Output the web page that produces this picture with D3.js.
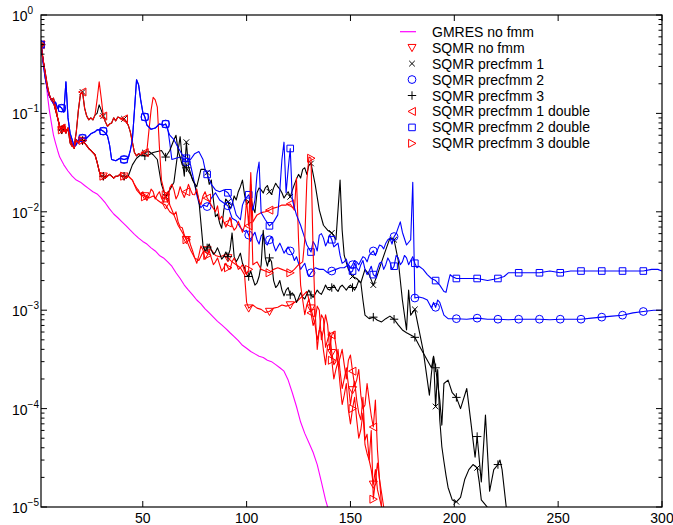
<!DOCTYPE html>
<html><head><meta charset="utf-8">
<script src="https://cdn.jsdelivr.net/npm/d3@7"></script>
<style>body{margin:0;background:#fff}svg{display:block}</style>
</head><body>
<svg id="c" width="673" height="525"></svg>
<script>
// ---------------- data: [iteration, relative residual] ----------------
const gmresNoFmm = [[1,0.50],[2,0.35],[3,0.26],[4,0.16],[5,0.108],[6,0.080],[7,0.060],[8,0.050],[9,0.042],[10,0.036],[12,0.030],[14,0.026],[16,0.023],[18,0.021],[20,0.020],[22,0.0185],[24,0.0172],[26,0.016],[28,0.0152],[30,0.0138],[32,0.0123],[34,0.0107],[36,0.0095],[38,0.0087],[40,0.0079],[42,0.0072],[44,0.0065],[46,0.0059],[48,0.0054],[50,0.0050],[52,0.0047],[54,0.0043],[56,0.0040],[58,0.0036],[60,0.0034],[62,0.0031],[64,0.0028],[66,0.0024],[68,0.0021],[70,0.0018],[72,0.0016],[74,0.00143],[76,0.00127],[78,0.00116],[80,0.00103],[82,0.00094],[84,0.00085],[86,0.00077],[88,0.00071],[90,0.00065],[92,0.00059],[94,0.00054],[96,0.00049],[98,0.00044],[100,0.00041],[102,0.00038],[104,0.00036],[106,0.00034],[108,0.00033],[110,0.00031],[112,0.00030],[114,0.00028],[116,0.00026],[118,0.00024],[120,0.000195],[122,0.000145],[124,0.000105],[126,0.000073],[128,0.000056],[130,0.000045],[132,0.000036],[134,0.000027],[136,0.000018],[138,0.0000118],[140,0.0000085]];

const sqmrNoFmm = [[1,0.50],[2,0.35],[3,0.25],[4,0.185],[5,0.154],[6,0.137],[7,0.13],[8,0.108],[9,0.090],[10,0.074],[11,0.068],[12,0.073],[13,0.063],[14,0.071],[15,0.056],[16,0.048],[17,0.044],[18,0.054],[19,0.050],[20,0.054],[21,0.053],[22,0.050],[23,0.047],[24,0.044],[25,0.042],[26,0.040],[27,0.038],[28,0.032],[29,0.026],[30,0.023],[31,0.023],[32,0.022],[33,0.023],[34,0.024],[35,0.023],[36,0.022],[37,0.023],[38,0.023],[39,0.024],[40,0.023],[41,0.023],[42,0.022],[43,0.023],[45,0.021],[47,0.0167],[49,0.0149],[51,0.0145],[53,0.0138],[55,0.0145],[57,0.0132],[59,0.0123],[61,0.0117],[63,0.0100],[65,0.0093],[67,0.0073],[69,0.0062],[71,0.0052],[73,0.0041],[75,0.0034],[77,0.0032],[79,0.0039],[81,0.0041],[83,0.0041],[85,0.0036],[87,0.0035],[89,0.0036],[91,0.0034],[93,0.0031],[95,0.0029],[97,0.0027],[99,0.0023],[100,0.0012],[101,0.00105],[103,0.00113],[105,0.00105],[107,0.00102],[109,0.00095],[111,0.00097],[113,0.00105],[115,0.00107],[117,0.00113],[119,0.0011],[121,0.00113],[123,0.0012],[125,0.00127],[127,0.0014],[129,0.00155],[131,0.00105],[132,0.00085],[133,0.0007],[134,0.0005],[135,0.00063],[136,0.0009],[137,0.00082],[138,0.00042],[139,0.0005],[140,0.0006],[141,0.00037],[142,0.00028],[143,0.0003],[144,0.0004],[145,0.00024],[146,0.00016],[147,0.0002],[148,0.00026],[149,0.000174],[150,0.00011],[151,0.000155],[152,0.00019],[153,0.000122],[154,0.00009],[155,0.000077],[156,0.00013],[157,0.000048],[158,0.000055],[159,0.00003],[160,0.000024],[161,0.000017],[162,0.000024],[163,0.000015],[165,0.00001],[166,0.000008]];

const sqmrPrec1 = [[1,0.50],[2,0.35],[3,0.265],[4,0.195],[5,0.154],[6,0.137],[7,0.143],[8,0.12],[9,0.090],[10,0.074],[11,0.071],[12,0.076],[13,0.066],[14,0.071],[15,0.050],[16,0.046],[17,0.047],[18,0.065],[19,0.108],[20,0.157],[21,0.165],[22,0.113],[23,0.094],[24,0.086],[25,0.090],[26,0.086],[27,0.096],[28,0.100],[29,0.122],[30,0.108],[31,0.094],[32,0.082],[33,0.074],[34,0.078],[35,0.080],[36,0.090],[37,0.084],[38,0.092],[39,0.090],[40,0.088],[41,0.088],[42,0.082],[43,0.076],[44,0.065],[45,0.051],[46,0.040],[47,0.037],[48,0.039],[49,0.038],[50,0.040],[51,0.040],[53,0.041],[55,0.038],[57,0.034],[59,0.019],[61,0.0142],[63,0.0167],[65,0.020],[67,0.042],[68,0.058],[69,0.034],[70,0.023],[71,0.051],[72,0.029],[74,0.021],[76,0.018],[78,0.027],[80,0.027],[81,0.025],[82,0.019],[83,0.021],[84,0.0132],[85,0.0089],[86,0.0095],[87,0.0077],[88,0.0068],[89,0.0104],[90,0.0135],[91,0.0126],[92,0.0108],[93,0.0117],[94,0.0145],[95,0.0132],[96,0.016],[97,0.018],[98,0.021],[99,0.0149],[100,0.0118],[101,0.0126],[102,0.014],[103,0.0112],[104,0.0098],[105,0.0156],[106,0.0175],[107,0.0167],[108,0.0155],[109,0.0175],[110,0.0185],[111,0.016],[112,0.015],[113,0.0175],[114,0.0195],[115,0.018],[116,0.017],[117,0.0156],[118,0.0138],[119,0.0149],[120,0.016],[121,0.0142],[122,0.0165],[123,0.019],[124,0.0215],[125,0.024],[126,0.022],[127,0.027],[128,0.028],[129,0.024],[130,0.030],[131,0.031],[133,0.019],[135,0.0104],[137,0.0073],[139,0.0065],[141,0.0061],[143,0.0052],[144,0.0104],[145,0.021],[146,0.0065],[147,0.0036],[149,0.0026],[151,0.0022],[153,0.0021],[155,0.0019],[157,0.0026],[159,0.0023],[161,0.0018],[163,0.0023],[165,0.0031],[167,0.0041],[169,0.0054],[171,0.0052],[173,0.0032],[175,0.00127],[177,0.00063],[178,0.0016],[179,0.00089],[181,0.00102],[183,0.00063],[185,0.00039],[187,0.000195],[188,0.000137],[189,0.00023],[190,0.00034],[191,0.000105],[192,0.00025],[193,0.000077],[194,0.000041],[195,0.000029],[196,0.000021],[197,0.0000158],[199,0.0000118],[201,0.0000113],[203,0.0000125],[205,0.000019],[207,0.000024],[209,0.000027],[211,0.000025],[212,0.000018],[213,0.0000118],[215,0.0000105],[217,0.0000093]];

const sqmrPrec2 = [[1,0.50],[2,0.33],[3,0.23],[4,0.18],[5,0.15],[6,0.137],[7,0.125],[8,0.13],[9,0.113],[10,0.118],[11,0.113],[12,0.103],[13,0.21],[14,0.090],[15,0.063],[16,0.054],[17,0.046],[18,0.048],[19,0.054],[20,0.055],[21,0.056],[23,0.056],[25,0.062],[27,0.065],[28,0.068],[30,0.068],[31,0.066],[32,0.063],[33,0.059],[34,0.048],[35,0.034],[37,0.033],[39,0.035],[41,0.034],[43,0.035],[44,0.042],[45,0.054],[46,0.108],[47,0.22],[48,0.195],[49,0.137],[50,0.103],[51,0.092],[52,0.076],[54,0.069],[56,0.071],[58,0.078],[60,0.076],[61,0.078],[62,0.071],[63,0.050],[64,0.034],[66,0.035],[68,0.036],[70,0.034],[71,0.032],[72,0.035],[73,0.030],[74,0.024],[75,0.019],[76,0.0149],[77,0.0123],[78,0.011],[79,0.0117],[81,0.0113],[83,0.0138],[85,0.0156],[87,0.0132],[89,0.0123],[91,0.0115],[93,0.0086],[95,0.0081],[97,0.0069],[99,0.0063],[100,0.0065],[101,0.0058],[102,0.005],[103,0.0057],[104,0.0062],[105,0.0052],[106,0.0047],[107,0.0057],[108,0.006],[109,0.0048],[110,0.0046],[111,0.0052],[112,0.0056],[113,0.0046],[114,0.004],[115,0.0044],[116,0.0048],[117,0.0043],[118,0.0038],[119,0.0041],[120,0.0044],[121,0.0040],[122,0.0037],[123,0.0032],[124,0.0035],[125,0.0030],[126,0.0026],[127,0.0028],[128,0.003],[129,0.0025],[130,0.0022],[131,0.0024],[133,0.0027],[135,0.0026],[137,0.0026],[139,0.0024],[141,0.0025],[143,0.0026],[145,0.0027],[147,0.0027],[149,0.0029],[150,0.0027],[151,0.0029],[152,0.0032],[153,0.0031],[154,0.0029],[155,0.0032],[156,0.0035],[157,0.0034],[158,0.0031],[159,0.0036],[160,0.0038],[161,0.0040],[162,0.0036],[163,0.0041],[164,0.0046],[165,0.0045],[166,0.0042],[167,0.0048],[168,0.0052],[169,0.0054],[170,0.0047],[171,0.0056],[172,0.006],[173,0.0069],[174,0.0079],[175,0.0062],[177,0.0046],[179,0.0052],[180,0.020],[181,0.00133],[183,0.00136],[185,0.00133],[187,0.00127],[189,0.00105],[190,0.00120],[191,0.00107],[192,0.00127],[193,0.0012],[195,0.00089],[197,0.00082],[201,0.00082],[206,0.00081],[211,0.00083],[216,0.00081],[221,0.00081],[226,0.00080],[231,0.00081],[236,0.00081],[241,0.00081],[246,0.00080],[251,0.00081],[256,0.00081],[261,0.00081],[266,0.00083],[271,0.00085],[276,0.00087],[281,0.00089],[286,0.00094],[291,0.00097],[296,0.00100],[300,0.00100]];

const sqmrPrec3 = [[1,0.50],[2,0.35],[3,0.25],[4,0.185],[5,0.154],[6,0.137],[7,0.13],[8,0.108],[9,0.090],[10,0.074],[11,0.068],[12,0.073],[13,0.063],[14,0.071],[15,0.056],[16,0.048],[17,0.044],[18,0.054],[19,0.050],[20,0.054],[21,0.053],[22,0.050],[23,0.047],[24,0.044],[25,0.042],[26,0.040],[27,0.038],[28,0.032],[29,0.026],[30,0.023],[31,0.023],[32,0.022],[33,0.023],[34,0.024],[35,0.023],[36,0.022],[37,0.023],[38,0.023],[39,0.024],[40,0.023],[41,0.023],[42,0.022],[43,0.023],[45,0.030],[47,0.035],[49,0.038],[51,0.037],[53,0.038],[55,0.040],[57,0.041],[59,0.042],[61,0.036],[63,0.042],[65,0.054],[66,0.060],[67,0.042],[69,0.030],[71,0.028],[73,0.024],[75,0.019],[77,0.0132],[79,0.0045],[80,0.0040],[81,0.0043],[82,0.0047],[83,0.0041],[84,0.0037],[85,0.0039],[86,0.0043],[87,0.0038],[88,0.0033],[89,0.0035],[90,0.0039],[91,0.0035],[92,0.0041],[93,0.0061],[94,0.0035],[95,0.0031],[96,0.0034],[97,0.0038],[98,0.0030],[99,0.0027],[100,0.0023],[101,0.0022],[102,0.0025],[103,0.0021],[104,0.0018],[105,0.0019],[106,0.0022],[107,0.0029],[108,0.0065],[109,0.0034],[110,0.0028],[111,0.0034],[112,0.0031],[113,0.0020],[114,0.0017],[115,0.0018],[116,0.0020],[117,0.0016],[118,0.0014],[119,0.0016],[120,0.0017],[121,0.00143],[122,0.0015],[123,0.0014],[124,0.0012],[125,0.00133],[126,0.0015],[127,0.00136],[128,0.0013],[129,0.00146],[130,0.0016],[131,0.00143],[132,0.00135],[133,0.00146],[134,0.0016],[135,0.0015],[136,0.00145],[137,0.0016],[138,0.0018],[139,0.00164],[140,0.0016],[141,0.0017],[142,0.0018],[143,0.00164],[144,0.00155],[145,0.00172],[146,0.0018],[147,0.0017],[148,0.0016],[149,0.00172],[150,0.0018],[151,0.0017],[152,0.0016],[153,0.00176],[154,0.0020],[155,0.0019],[156,0.00127],[157,0.00089],[159,0.00082],[161,0.00085],[163,0.00079],[165,0.00076],[167,0.00082],[169,0.00087],[171,0.00081],[173,0.00071],[175,0.00063],[177,0.00059],[179,0.00056],[181,0.00053],[183,0.00044],[185,0.00037],[187,0.00031],[189,0.00026],[190,0.00034],[191,0.00026],[193,0.000122],[194,0.000068],[195,0.00018],[197,0.000195],[199,0.000145],[201,0.00013],[203,0.0001],[206,0.00016],[208,0.000072],[210,0.000032],[211,0.000052],[213,0.000018],[215,0.000086],[217,0.0000145],[219,0.000024],[221,0.000027],[222,0.00003],[223,0.000024],[225,0.00001],[226,0.000008]];

const sqmrPrec1Double = [[1,0.50],[2,0.35],[3,0.265],[4,0.195],[5,0.154],[6,0.137],[7,0.143],[8,0.12],[9,0.090],[10,0.074],[11,0.071],[12,0.076],[13,0.066],[14,0.071],[15,0.050],[16,0.046],[17,0.047],[18,0.065],[19,0.108],[20,0.157],[21,0.165],[22,0.113],[23,0.094],[24,0.086],[25,0.090],[26,0.086],[27,0.096],[28,0.137],[29,0.21],[30,0.143],[31,0.094],[32,0.082],[33,0.074],[34,0.078],[35,0.080],[36,0.090],[37,0.084],[38,0.092],[39,0.090],[40,0.088],[41,0.088],[42,0.082],[43,0.076],[44,0.065],[45,0.051],[46,0.040],[47,0.037],[48,0.039],[49,0.038],[50,0.040],[51,0.040],[52,0.042],[53,0.068],[54,0.108],[55,0.146],[56,0.137],[57,0.116],[58,0.046],[59,0.021],[61,0.0142],[62,0.0125],[63,0.0175],[64,0.019],[65,0.0167],[66,0.0135],[67,0.0149],[68,0.018],[69,0.0156],[70,0.014],[71,0.016],[72,0.019],[73,0.0167],[74,0.015],[75,0.0149],[76,0.017],[77,0.0132],[78,0.0118],[79,0.0145],[80,0.016],[81,0.0138],[82,0.0128],[83,0.0117],[84,0.0108],[85,0.0100],[86,0.0115],[87,0.0083],[88,0.009],[89,0.0079],[90,0.007],[91,0.0077],[92,0.0088],[93,0.0073],[94,0.0065],[95,0.0069],[96,0.008],[97,0.0071],[98,0.0062],[99,0.0072],[100,0.0132],[101,0.0072],[102,0.025],[103,0.0079],[105,0.0093],[107,0.0098],[109,0.0100],[111,0.0104],[113,0.0109],[115,0.0112],[117,0.0117],[119,0.0117],[121,0.0120],[123,0.0104],[124,0.022],[125,0.0052],[126,0.0018],[127,0.00127],[128,0.0009],[129,0.00113],[130,0.0013],[131,0.00094],[132,0.0007],[133,0.00079],[134,0.0011],[135,0.00100],[136,0.0005],[137,0.00063],[138,0.0009],[139,0.00071],[140,0.0004],[141,0.00056],[142,0.0006],[143,0.00044],[144,0.00028],[145,0.00033],[146,0.0004],[147,0.00028],[148,0.0002],[149,0.00031],[150,0.00035],[151,0.00024],[152,0.00017],[153,0.000195],[154,0.00025],[155,0.000137],[156,0.0001],[157,0.000109],[158,0.00018],[159,0.000122],[160,0.000085],[161,0.000065],[162,0.000122],[163,0.000038],[164,0.000019],[165,0.00001],[166,0.000008]];

const sqmrPrec2Double = [[1,0.50],[2,0.33],[3,0.23],[4,0.18],[5,0.15],[6,0.137],[7,0.125],[8,0.13],[9,0.113],[10,0.118],[11,0.113],[12,0.103],[13,0.21],[14,0.090],[15,0.063],[16,0.054],[17,0.046],[18,0.048],[19,0.054],[20,0.055],[21,0.056],[23,0.056],[25,0.062],[27,0.065],[28,0.068],[30,0.068],[31,0.066],[32,0.063],[33,0.059],[34,0.048],[35,0.034],[37,0.033],[39,0.035],[41,0.034],[43,0.035],[44,0.042],[45,0.054],[46,0.108],[47,0.22],[48,0.195],[49,0.137],[50,0.103],[51,0.092],[52,0.076],[54,0.069],[56,0.071],[58,0.078],[60,0.076],[61,0.078],[62,0.068],[63,0.060],[65,0.054],[67,0.045],[69,0.038],[71,0.035],[73,0.034],[75,0.039],[77,0.041],[79,0.034],[80,0.027],[81,0.024],[83,0.019],[85,0.0167],[87,0.016],[89,0.0167],[91,0.0156],[93,0.0132],[95,0.0093],[97,0.0083],[98,0.0117],[99,0.0132],[101,0.0149],[103,0.0104],[104,0.0132],[105,0.024],[106,0.032],[107,0.0098],[109,0.0083],[111,0.0072],[113,0.0079],[115,0.0093],[116,0.0167],[117,0.034],[118,0.051],[119,0.0156],[120,0.027],[121,0.044],[122,0.0132],[124,0.0093],[126,0.0073],[128,0.0054],[129,0.0046],[131,0.0039],[132,0.005],[133,0.0046],[134,0.004],[135,0.0058],[136,0.006],[137,0.0054],[138,0.0045],[139,0.005],[140,0.0058],[141,0.0052],[142,0.0044],[143,0.0046],[144,0.0048],[145,0.0036],[146,0.003],[147,0.0031],[148,0.0033],[149,0.0027],[150,0.0024],[151,0.0025],[152,0.003],[153,0.0027],[154,0.0025],[155,0.0029],[156,0.0032],[157,0.0026],[158,0.0023],[159,0.0025],[160,0.0028],[161,0.0023],[162,0.0022],[163,0.0026],[164,0.003],[165,0.0031],[166,0.0026],[167,0.0029],[168,0.0034],[169,0.0031],[170,0.0026],[171,0.0028],[172,0.0036],[173,0.0034],[174,0.0029],[175,0.0031],[176,0.0036],[177,0.0034],[178,0.0029],[179,0.0032],[180,0.0035],[181,0.0030],[182,0.0027],[183,0.0028],[185,0.0026],[187,0.0023],[189,0.0021],[191,0.0020],[193,0.0018],[195,0.00155],[196,0.00152],[197,0.0019],[198,0.0023],[199,0.0022],[201,0.0021],[206,0.0021],[211,0.0021],[216,0.0020],[221,0.0021],[224,0.0022],[226,0.0024],[231,0.0024],[236,0.0024],[241,0.0024],[246,0.0025],[251,0.0024],[256,0.0025],[261,0.0025],[266,0.0025],[271,0.0025],[276,0.0025],[281,0.0025],[286,0.0025],[291,0.0025],[295,0.0026],[298,0.0026],[300,0.0025]];

const sqmrPrec3Double = [[1,0.50],[2,0.35],[3,0.25],[4,0.185],[5,0.154],[6,0.137],[7,0.13],[8,0.108],[9,0.090],[10,0.074],[11,0.068],[12,0.073],[13,0.063],[14,0.071],[15,0.056],[16,0.048],[17,0.044],[18,0.054],[19,0.050],[20,0.054],[21,0.053],[22,0.050],[23,0.047],[24,0.044],[25,0.042],[26,0.040],[27,0.038],[28,0.032],[29,0.026],[30,0.023],[31,0.023],[32,0.022],[33,0.023],[34,0.024],[35,0.023],[36,0.022],[37,0.023],[38,0.023],[39,0.024],[40,0.023],[41,0.023],[42,0.022],[43,0.023],[45,0.021],[46,0.019],[47,0.0175],[48,0.0165],[49,0.0149],[50,0.016],[51,0.0142],[52,0.013],[53,0.0145],[54,0.017],[55,0.016],[56,0.0135],[57,0.0149],[58,0.016],[59,0.0138],[60,0.0125],[61,0.0149],[62,0.016],[63,0.0117],[64,0.0105],[65,0.0093],[66,0.01],[67,0.0079],[68,0.007],[69,0.0069],[70,0.0058],[71,0.0052],[72,0.0055],[73,0.0046],[74,0.004],[75,0.0034],[76,0.003],[77,0.0036],[78,0.0045],[79,0.0041],[80,0.0033],[81,0.0036],[82,0.004],[83,0.0034],[84,0.0029],[85,0.0031],[86,0.0034],[87,0.0029],[88,0.0025],[89,0.0027],[90,0.003],[91,0.0027],[92,0.0026],[93,0.0031],[94,0.0034],[95,0.003],[96,0.0026],[97,0.0027],[98,0.0029],[99,0.0025],[100,0.0023],[101,0.0026],[102,0.019],[103,0.0029],[105,0.0031],[107,0.0026],[109,0.0025],[111,0.0024],[113,0.0026],[115,0.0027],[117,0.0026],[119,0.0025],[121,0.0024],[123,0.0026],[125,0.0029],[127,0.0031],[128,0.0052],[129,0.021],[130,0.036],[131,0.035],[132,0.0041],[133,0.00096],[134,0.0004],[135,0.00063],[136,0.0006],[137,0.00039],[138,0.00028],[139,0.00044],[140,0.00045],[141,0.00031],[142,0.0002],[143,0.00025],[144,0.0003],[145,0.000174],[146,0.00011],[147,0.000137],[148,0.00018],[149,0.000097],[150,0.00007],[151,0.0001],[152,0.00013],[153,0.000077],[154,0.00005],[155,0.000061],[156,0.00009],[157,0.000043],[158,0.000035],[159,0.00003],[160,0.00006],[161,0.000012],[163,0.000028],[164,0.000019],[166,0.00001],[167,0.000008]];

const legendLabels = ["GMRES no fmm","SQMR no fmm","SQMR precfmm 1","SQMR precfmm 2","SQMR precfmm 3","SQMR precfmm 1 double","SQMR precfmm 2 double","SQMR precfmm 3 double"];
const xTickValues = [50,100,150,200,250,300];
const yTickValues = [1e-5,1e-4,1e-3,1e-2,1e-1,1];

// ---------------- styling ----------------
const series = [
  {data:gmresNoFmm,      color:"#ff00ff", marker:null},
  {data:sqmrNoFmm,       color:"#ff0000", marker:"tdown"},
  {data:sqmrPrec1,       color:"#000000", marker:"x"},
  {data:sqmrPrec2,       color:"#0000ff", marker:"circle"},
  {data:sqmrPrec3,       color:"#000000", marker:"plus"},
  {data:sqmrPrec1Double, color:"#ff0000", marker:"tleft"},
  {data:sqmrPrec2Double, color:"#0000ff", marker:"square"},
  {data:sqmrPrec3Double, color:"#ff0000", marker:"tright"}
];
const markerPath = {
  tdown:"M-4,-3.2L4,-3.2L0,4Z",
  tleft:"M3.4,-4L3.4,4L-4,0Z",
  tright:"M-3.4,-4L-3.4,4L4,0Z",
  circle:"M-3.9,0A3.9,3.9 0 1 0 3.9,0A3.9,3.9 0 1 0 -3.9,0Z",
  square:"M-3.3,-3.3H3.3V3.3H-3.3Z",
  x:"M-2.8,-2.8L2.8,2.8M-2.8,2.8L2.8,-2.8",
  plus:"M-4.2,0H4.2M0,-4.2V4.2"
};

const L=41, R=662, T=15, B=507;
const FONT = "'Liberation Sans', Arial, Helvetica, sans-serif";
const svg = d3.select("#c").style("font-family", FONT);
svg.append("rect").attr("width",673).attr("height",525).attr("fill","#fff");

const x = d3.scaleLinear().domain([1,300]).range([L,R]);
const y = d3.scaleLog().domain([1e-5,1]).range([B,T]);

svg.append("clipPath").attr("id","clip").append("rect")
  .attr("x",L).attr("y",T).attr("width",R-L).attr("height",B-T);

const plot = svg.append("g").attr("clip-path","url(#clip)");
const line = d3.line().x(d=>x(d[0])).y(d=>y(d[1]));

series.forEach(s=>{
  const pts = s.data.slice().sort((a,b)=>a[0]-b[0]);
  plot.append("path").datum(pts).attr("d",line)
    .attr("fill","none").attr("stroke",s.color).attr("stroke-width",1.1)
    .attr("stroke-linejoin","round");
  if(s.marker){
    plot.selectAll(null).data(pts.filter(d=>d[0]%10===1)).enter().append("path")
      .attr("transform",d=>`translate(${x(d[0])},${y(d[1])})`)
      .attr("d",markerPath[s.marker])
      .attr("fill","none").attr("stroke",s.color).attr("stroke-width",1);
  }
});

// ---------------- axes ----------------
const axes = svg.append("g").attr("stroke","#000").attr("fill","none");
axes.append("rect").attr("x",L).attr("y",T).attr("width",R-L).attr("height",B-T).attr("stroke-width",1.2);

xTickValues.forEach(v=>{
  axes.append("line").attr("x1",x(v)).attr("x2",x(v)).attr("y1",B).attr("y2",B-6);
  axes.append("line").attr("x1",x(v)).attr("x2",x(v)).attr("y1",T).attr("y2",T+6);
});
const minors = [];
yTickValues.slice(0,-1).forEach(d=>{ for(let k=2;k<=9;k++) minors.push(d*k); });
yTickValues.forEach(v=>{
  axes.append("line").attr("x1",L).attr("x2",L+6).attr("y1",y(v)).attr("y2",y(v));
  axes.append("line").attr("x1",R).attr("x2",R-6).attr("y1",y(v)).attr("y2",y(v));
});
minors.forEach(v=>{
  axes.append("line").attr("x1",L).attr("x2",L+3.5).attr("y1",y(v)).attr("y2",y(v));
  axes.append("line").attr("x1",R).attr("x2",R-3.5).attr("y1",y(v)).attr("y2",y(v));
});

const labels = svg.append("g").attr("fill","#000");
xTickValues.forEach(v=>{
  labels.append("text").attr("x",x(v)).attr("y",523).attr("text-anchor","middle")
    .attr("font-size",14).text(v);
});
yTickValues.forEach(v=>{
  const e = Math.round(Math.log10(v));
  const t = labels.append("text").attr("x",12).attr("y",y(v)+6).attr("font-size",14);
  t.append("tspan").text("10");
  t.append("tspan").attr("dy",-7).attr("font-size",10).text(e===0?"0":"\u2212"+(-e));
});

// ---------------- legend ----------------
const lg = svg.append("g");
legendLabels.forEach((lab,i)=>{
  const cy = 31.7 + i*15.95;
  const s = series[i];
  if(!s.marker){
    lg.append("line").attr("x1",400).attr("x2",416).attr("y1",cy).attr("y2",cy)
      .attr("stroke",s.color).attr("stroke-width",1.2);
  } else {
    lg.append("path").attr("transform",`translate(412,${cy})`).attr("d",markerPath[s.marker])
      .attr("fill","none").attr("stroke",s.color).attr("stroke-width",1);
  }
  lg.append("text").attr("x",432).attr("y",cy+5).attr("font-size",14).attr("fill","#000").text(lab);
});
</script>
</body></html>
